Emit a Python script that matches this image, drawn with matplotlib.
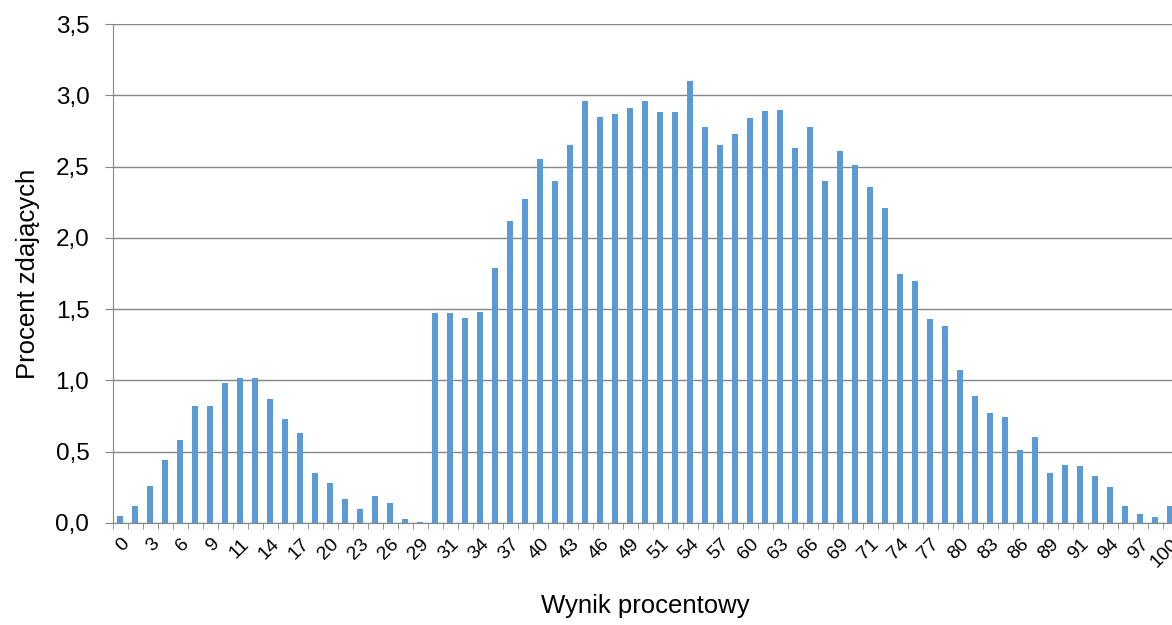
import matplotlib.pyplot as plt
import numpy as np

plt.rcParams['font.family'] = ['Liberation Sans', 'DejaVu Sans']

# Wynik procentowy (k/70 punktów, zaokrąglone)
wynik = [0, 1, 3, 4, 6, 7, 9, 10, 11, 13, 14, 16, 17, 19, 20, 21, 23, 24, 26, 27,
         29, 30, 31, 33, 34, 36, 37, 39, 40, 41, 43, 44, 46, 47, 49, 50, 51, 53, 54, 56,
         57, 59, 60, 61, 63, 64, 66, 67, 69, 70, 71, 73, 74, 76, 77, 79, 80, 81, 83, 84,
         86, 87, 89, 90, 91, 93, 94, 96, 97, 99, 100]

# Procent zdających
procent = [0.05, 0.12, 0.26, 0.44, 0.58, 0.82, 0.82, 0.98, 1.02, 1.02,
           0.87, 0.73, 0.63, 0.35, 0.28, 0.17, 0.10, 0.19, 0.14, 0.03,
           0.005, 1.47, 1.47, 1.44, 1.48, 1.79, 2.12, 2.27, 2.55, 2.40,
           2.65, 2.96, 2.85, 2.87, 2.91, 2.96, 2.88, 2.88, 3.10, 2.78,
           2.65, 2.73, 2.84, 2.89, 2.90, 2.63, 2.78, 2.40, 2.61, 2.51,
           2.36, 2.21, 1.75, 1.70, 1.43, 1.38, 1.07, 0.89, 0.77, 0.74,
           0.51, 0.60, 0.35, 0.41, 0.40, 0.33, 0.25, 0.12, 0.06, 0.04,
           0.12]

x = np.arange(len(wynik))

fig = plt.figure(figsize=(11.72, 6.25), dpi=100)
ax = fig.add_axes([0.0964, 0.1632, 0.9087, 0.7984])

ax.bar(x, procent, width=0.4, color='#5B9BD5', zorder=3)

ax.set_xlim(-0.5, len(wynik) - 0.5)
ax.set_ylim(0, 3.5)
ax.set_yticks(np.arange(0, 3.51, 0.5))
ax.set_yticklabels([f'{v:.1f}'.replace('.', ',') for v in np.arange(0, 3.51, 0.5)],
                   fontsize=17.5)
ax.yaxis.grid(True, color='#868686', linewidth=1, zorder=0)

# etykiety co drugi słupek, kreski na granicach kategorii
ax.set_xticks(x[::2])
ax.set_xticklabels([str(w) for w in wynik[::2]], rotation=45, ha='right',
                   rotation_mode='anchor', fontsize=14)
ax.tick_params(axis='x', which='major', length=0, pad=9)
ax.set_xticks(np.arange(-0.5, len(wynik), 1), minor=True)
ax.tick_params(axis='x', which='minor', length=4.5, color='#868686')
ax.tick_params(axis='y', length=6, color='#868686', pad=11)

for s in ['top', 'right']:
    ax.spines[s].set_visible(False)
for s in ['left', 'bottom']:
    ax.spines[s].set_color('#868686')

ax.set_xlabel('Wynik procentowy', fontsize=18.5, labelpad=17)
ax.set_ylabel('Procent zdających', fontsize=18.5, labelpad=11)

fig.savefig('out.png', dpi=100)
